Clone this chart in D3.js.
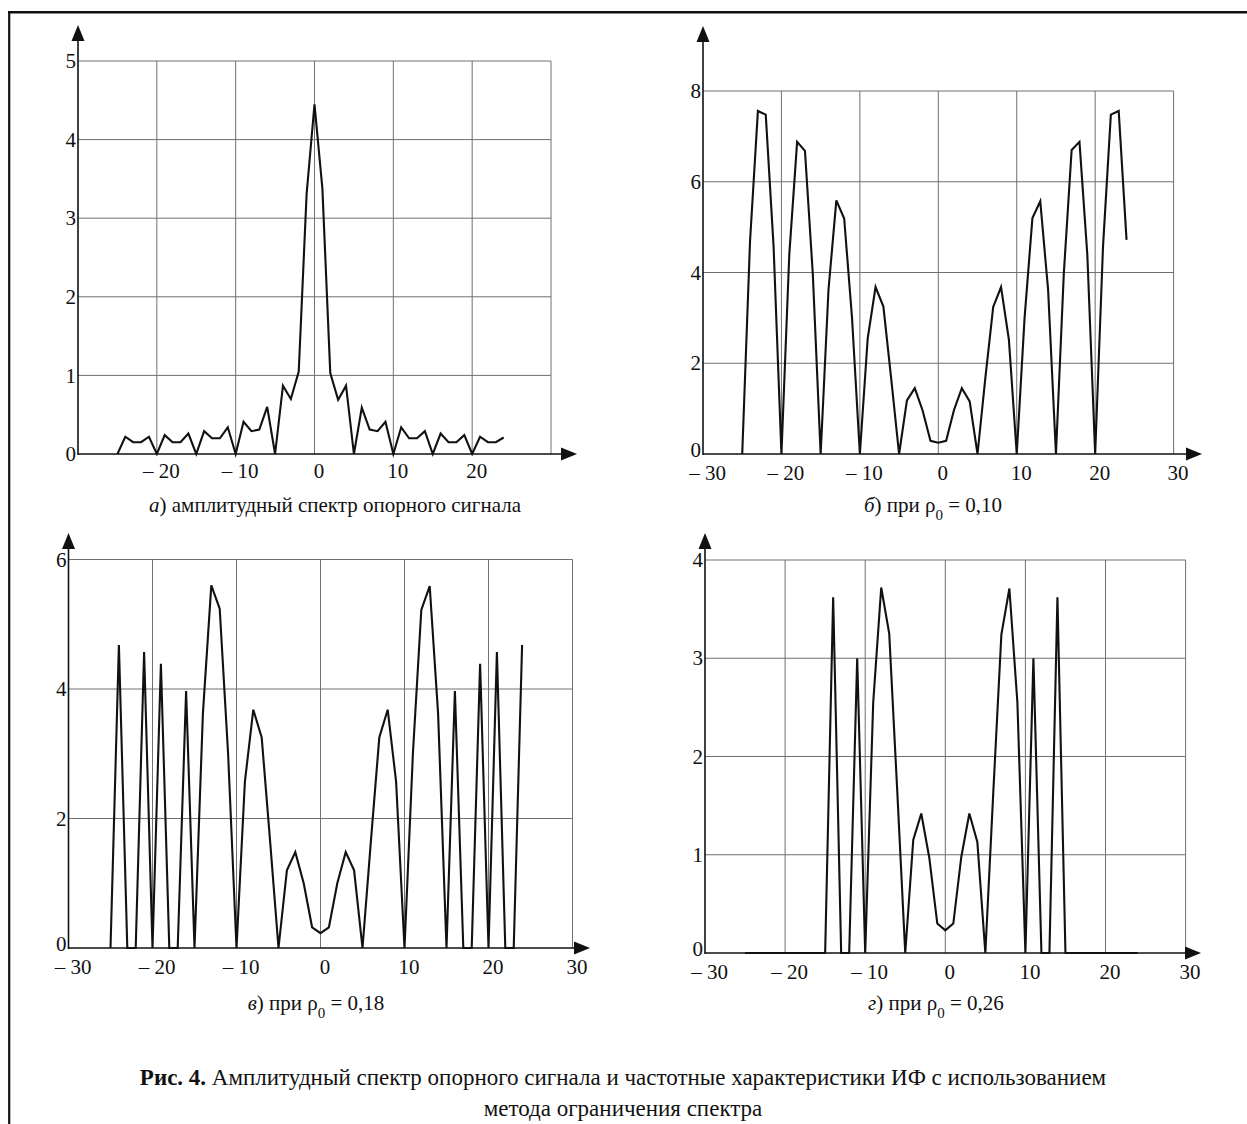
<!DOCTYPE html>
<html><head><meta charset="utf-8">
<script src="https://cdn.jsdelivr.net/npm/d3@7"></script>
<style>
html,body{margin:0;padding:0;background:#fff;}
svg{display:block;}
text{font-family:"Liberation Serif","Times New Roman",serif;fill:#111;}
</style></head><body>
<svg id="chart" width="1247" height="1124"></svg>
<script>
// ---------- data ----------
const freq = [-25,-24,-23,-22,-21,-20,-19,-18,-17,-16,-15,-14,-13,-12,-11,-10,-9,-8,-7,-6,-5,-4,-3,-2,-1,
              0,1,2,3,4,5,6,7,8,9,10,11,12,13,14,15,16,17,18,19,20,21,22,23,24];
// а) amplitude spectrum of the reference signal
const specA = [0,0.22,0.15,0.15,0.22,0,0.24,0.15,0.15,0.26,0,0.29,0.2,0.2,0.34,0,0.41,0.29,0.31,0.6,0,0.87,0.7,1.05,3.31,
               4.45,3.38,1.03,0.69,0.87,0,0.59,0.31,0.29,0.41,0,0.34,0.2,0.2,0.29,0,0.26,0.15,0.15,0.24,0,0.22,0.15,0.15,0.21];
// б) ρ0 = 0,10
const specB = [0,4.7,7.56,7.48,4.57,0,4.39,6.88,6.68,3.97,0,3.62,5.59,5.19,3.0,0,2.55,3.68,3.25,1.65,0,1.18,1.45,0.96,0.29,
               0.25,0.29,0.97,1.45,1.16,0,1.68,3.24,3.68,2.52,0,3.0,5.2,5.57,3.62,0,3.97,6.7,6.88,4.39,0,4.57,7.48,7.56,4.72];
// в) ρ0 = 0,18
const specC = [0,4.68,0,0,4.57,0,4.39,0,0,3.97,0,3.62,5.6,5.24,3.0,0,2.57,3.68,3.25,1.65,0,1.2,1.48,1.0,0.32,
               0.23,0.32,1.0,1.48,1.2,0,1.65,3.25,3.68,2.57,0,3.0,5.22,5.59,3.62,0,3.97,0,0,4.39,0,4.57,0,0,4.68];
// г) ρ0 = 0,26
const specD = [0,0,0,0,0,0,0,0,0,0,0,3.62,0,0,3.0,0,2.55,3.72,3.25,1.65,0,1.15,1.42,0.97,0.3,
               0.23,0.3,0.98,1.42,1.13,0,1.65,3.24,3.71,2.55,0,3.0,0,0,3.62,0,0,0,0,0,0,0,0,0,0];

const xGrid = [-20,-10,0,10,20,30];
const xTicksA = [-20,-10,0,10,20];
const xTicksBCD = [-30,-20,-10,0,10,20,30];
const yTicksA = [0,1,2,3,4,5];
const yTicksB = [0,2,4,6,8];
const yTicksC = [0,2,4,6];
const yTicksD = [0,1,2,3,4];

const captionBold = "Рис. 4.";
const captionRest = " Амплитудный спектр опорного сигнала и частотные характеристики ИФ с использованием";
const captionLine2 = "метода ограничения спектра";

// ---------- drawing ----------
const svg = d3.select("#chart");

// frame
svg.append("line").attr("x1",8).attr("x2",1247).attr("y1",12.2).attr("y2",12.2)
   .attr("stroke","#111").attr("stroke-width",2.4);
svg.append("line").attr("x1",9.2).attr("x2",9.2).attr("y1",11).attr("y2",1124)
   .attr("stroke","#111").attr("stroke-width",2.2);

const fmtX = d => d < 0 ? "\u2013 " + Math.abs(d) : String(d);

function panel(cfg){
  const g = svg.append("g");
  const x = d3.scaleLinear().domain([-30,30]).range([cfg.x0, cfg.x1]);
  const y = d3.scaleLinear().domain([0, cfg.ymax]).range([cfg.yb, cfg.yt]);

  // grid
  g.append("g").selectAll("line").data(cfg.yTicks.filter(v=>v>0)).join("line")
    .attr("x1", x(-30)).attr("x2", x(30)).attr("y1", d=>y(d)).attr("y2", d=>y(d))
    .attr("stroke","#707070").attr("stroke-width",1);
  g.append("g").selectAll("line").data(xGrid).join("line")
    .attr("x1", d=>x(d)).attr("x2", d=>x(d)).attr("y1", y(0)).attr("y2", y(cfg.ymax))
    .attr("stroke","#707070").attr("stroke-width",1);

  // tick labels via d3 axes
  const ay = g.append("g").attr("transform",`translate(${x(-30)},0)`)
    .call(d3.axisLeft(y).tickValues(cfg.yTicks).tickSize(0).tickPadding(2).tickFormat(d3.format("d")));
  const ax = g.append("g").attr("transform",`translate(4,${y(0)})`)
    .call(d3.axisBottom(x).tickValues(cfg.xTicks).tickSize(0).tickPadding(cfg.xPad).tickFormat(fmtX));
  [ay, ax].forEach(a => {
    a.select(".domain").remove();
    a.selectAll("text").style("font-family",'"Liberation Serif","Times New Roman",serif')
      .style("font-size","21px").attr("fill","#111");
  });
  ay.selectAll(".tick").filter(d => d === 0).select("text").attr("dy", cfg.zeroDy);

  // axes with arrows
  g.append("line").attr("x1", x(-30)).attr("x2", x(-30)).attr("y1", y(0)+1).attr("y2", cfg.arrowTop+10)
    .attr("stroke","#111").attr("stroke-width",1.6);
  g.append("path").attr("d",`M${x(-30)},${cfg.arrowTop} L${x(-30)-6.5},${cfg.arrowTop+16} L${x(-30)+6.5},${cfg.arrowTop+16}Z`)
    .attr("fill","#111");
  g.append("line").attr("x1", x(-30)).attr("x2", cfg.arrowRight-10).attr("y1", y(0)).attr("y2", y(0))
    .attr("stroke","#111").attr("stroke-width",1.6);
  g.append("path").attr("d",`M${cfg.arrowRight},${y(0)} L${cfg.arrowRight-16},${y(0)-6.5} L${cfg.arrowRight-16},${y(0)+6.5}Z`)
    .attr("fill","#111");

  // data line
  const pts = freq.map((f,i)=>[f, cfg.values[i]]);
  g.append("path").datum(pts)
    .attr("d", d3.line().x(d=>x(d[0])).y(d=>y(d[1])))
    .attr("fill","none").attr("stroke","#111").attr("stroke-width",2.1).attr("stroke-linejoin","miter");

  // panel label
  const t = g.append("text").attr("x", cfg.labelX).attr("y", cfg.labelY)
    .attr("text-anchor","middle").style("font-size","21px");
  t.append("tspan").style("font-style","italic").text(cfg.letter);
  t.append("tspan").text(")");
  if (cfg.rho) {
    t.append("tspan").text(" при \u03C1");
    t.append("tspan").attr("baseline-shift","sub").style("font-size","15px").text("0");
    t.append("tspan").text(" = " + cfg.rho);
  } else {
    t.append("tspan").text(" " + cfg.title);
  }
}

panel({x0:78, x1:551, yb:454, yt:61, ymax:5, yTicks:yTicksA, xTicks:xTicksA, values:specA, xPad:9, zeroDy:"0.32em",
       arrowTop:25, arrowRight:577, labelX:335, labelY:512, letter:"а", title:"амплитудный спектр опорного сигнала"});
panel({x0:703, x1:1173.6, yb:454, yt:91, ymax:8, yTicks:yTicksB, xTicks:xTicksBCD, values:specB, xPad:11, zeroDy:"0.12em",
       arrowTop:26, arrowRight:1202, labelX:933, labelY:512, letter:"б", rho:"0,10"});
panel({x0:68.5, x1:572.5, yb:948, yt:559.5, ymax:6, yTicks:yTicksC, xTicks:xTicksBCD, values:specC, xPad:11, zeroDy:"0.12em",
       arrowTop:533, arrowRight:590, labelX:316, labelY:1010, letter:"в", rho:"0,18"});
panel({x0:705, x1:1185.6, yb:953, yt:560, ymax:4, yTicks:yTicksD, xTicks:xTicksBCD, values:specD, xPad:11, zeroDy:"0.12em",
       arrowTop:533, arrowRight:1201, labelX:936, labelY:1010, letter:"г", rho:"0,26"});

// caption
const c1 = svg.append("text").attr("x",623).attr("y",1085).attr("text-anchor","middle").style("font-size","23px");
c1.append("tspan").style("font-weight","bold").text(captionBold);
c1.append("tspan").text(captionRest);
svg.append("text").attr("x",623).attr("y",1116).attr("text-anchor","middle").style("font-size","23px").text(captionLine2);
</script>
</body></html>
